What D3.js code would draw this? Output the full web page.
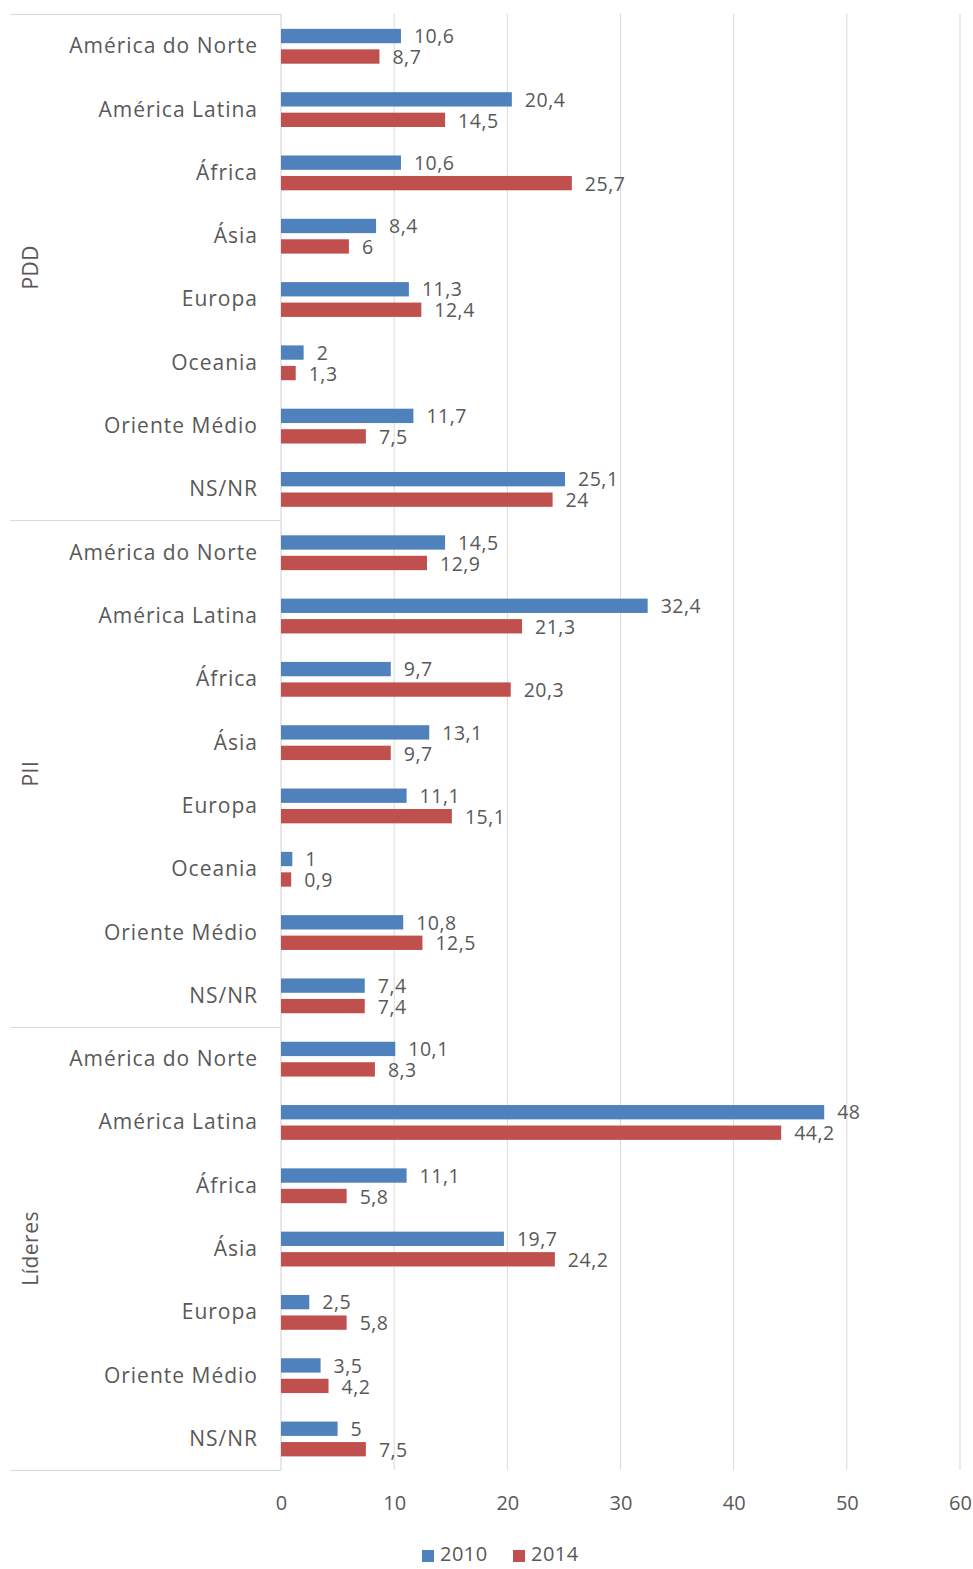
<!DOCTYPE html>
<html><head><meta charset="utf-8">
<script src="https://cdn.jsdelivr.net/npm/d3@7"></script>
<style>
body{margin:0;background:#fff;}
text{font-family:"Open Sans",sans-serif;fill:#595959;}
</style></head>
<body><svg id="c" width="973" height="1569"></svg>
<script>
const groups = ["PDD", "PII", "Líderes"];
const catsPDD = ["América do Norte","América Latina","África","Ásia","Europa","Oceania","Oriente Médio","NS/NR"];
const catsPII = ["América do Norte","América Latina","África","Ásia","Europa","Oceania","Oriente Médio","NS/NR"];
const catsLid = ["América do Norte","América Latina","África","Ásia","Europa","Oriente Médio","NS/NR"];
const pdd2010 = [10.6,20.4,10.6,8.4,11.3,2,11.7,25.1];
const pdd2014 = [8.7,14.5,25.7,6,12.4,1.3,7.5,24];
const pii2010 = [14.5,32.4,9.7,13.1,11.1,1,10.8,7.4];
const pii2014 = [12.9,21.3,20.3,9.7,15.1,0.9,12.5,7.4];
const lid2010 = [10.1,48,11.1,19.7,2.5,3.5,5];
const lid2014 = [8.3,44.2,5.8,24.2,5.8,4.2,7.5];
const seriesNames = ["2010","2014"];
const xTicks = [0,10,20,30,40,50,60];
const colors = {"2010":"#4f81bd","2014":"#c0504d"};

const groupCats = [catsPDD, catsPII, catsLid];
const groupVals = [[pdd2010,pdd2014],[pii2010,pii2014],[lid2010,lid2014]];
const rows = [];
groupCats.forEach((cats,gi)=>cats.forEach((c,ci)=>rows.push({key:gi+"|"+ci, group:groups[gi], cat:c, v2010:groupVals[gi][0][ci], v2014:groupVals[gi][1][ci]})));

const svg = d3.select("#c");
const x0 = 281, x1 = 960, yTop = 14, yBot = 1470, leftEdge = 10;
const x = d3.scaleLinear().domain([0,60]).range([x0,x1]);
const y = d3.scaleBand().domain(rows.map(r=>r.key)).range([yTop,yBot]);
const bw = y.bandwidth();
const ys = d3.scaleBand().domain(seriesNames).range([bw*0.235,bw*0.785]).paddingInner(0.3);
const fmt = v => String(v).replace(".",",");

// gridlines
svg.append("g").selectAll("line").data(xTicks.slice(1)).join("line")
  .attr("x1",d=>x(d)).attr("x2",d=>x(d)).attr("y1",yTop).attr("y2",yBot)
  .attr("stroke","#d9d9d9").attr("stroke-width",1);
// axis line
svg.append("line").attr("x1",x0).attr("x2",x0).attr("y1",yTop).attr("y2",yBot).attr("stroke","#d0d0d0");
// group separators
const bounds = [yTop];
let acc = 0;
groupCats.forEach(c=>{acc+=c.length; bounds.push(yTop+acc*y.step());});
svg.append("g").selectAll("line").data(bounds).join("line")
  .attr("x1",leftEdge).attr("x2",x0).attr("y1",d=>Math.round(d)+0.5).attr("y2",d=>Math.round(d)+0.5)
  .attr("stroke","#d9d9d9");

// bars
const rg = svg.append("g").selectAll("g").data(rows).join("g").attr("transform",d=>`translate(0,${y(d.key)})`);
seriesNames.forEach((s,i)=>{
  rg.append("rect").attr("x",x(0)).attr("y",ys(s)).attr("height",ys.bandwidth())
    .attr("width",d=>x(d["v"+s])-x(0)).attr("fill",colors[s]);
  rg.append("text").attr("x",d=>x(d["v"+s])+13).attr("y",ys(s)+ys.bandwidth()/2+(i===0?2:2.5))
    .attr("dominant-baseline","middle").attr("font-size",19.5).attr("letter-spacing",0.5)
    .text(d=>fmt(d["v"+s]));
});
// category labels
rg.append("text").attr("x",258).attr("y",bw/2+2).attr("text-anchor","end")
  .attr("dominant-baseline","middle").attr("font-size",21).attr("letter-spacing",1).text(d=>d.cat);

// group labels
groups.forEach((g,i)=>{
  const cy = (bounds[i]+bounds[i+1])/2;
  svg.append("text").attr("transform",`translate(38,${cy}) rotate(-90)`)
    .attr("text-anchor","middle").attr("font-size",21).attr("letter-spacing",0.5).text(g);
});

// x axis
const ax = svg.append("g").attr("transform",`translate(0,${yBot})`)
  .call(d3.axisBottom(x).tickValues(xTicks).tickSize(0).tickPadding(26));
ax.select(".domain").remove();
ax.selectAll("text").attr("font-size",20).attr("fill","#595959").style("font-family","'Open Sans',sans-serif");

// legend
const leg = svg.append("g").attr("transform","translate(422,1555)");
seriesNames.forEach((s,i)=>{
  const g = leg.append("g").attr("transform",`translate(${i*91},0)`);
  g.append("rect").attr("x",0).attr("y",-5).attr("width",12).attr("height",12).attr("fill",colors[s]);
  g.append("text").attr("x",18).attr("y",1).attr("dominant-baseline","middle").attr("font-size",20).attr("letter-spacing",0.5).text(s);
});
</script></body></html>
